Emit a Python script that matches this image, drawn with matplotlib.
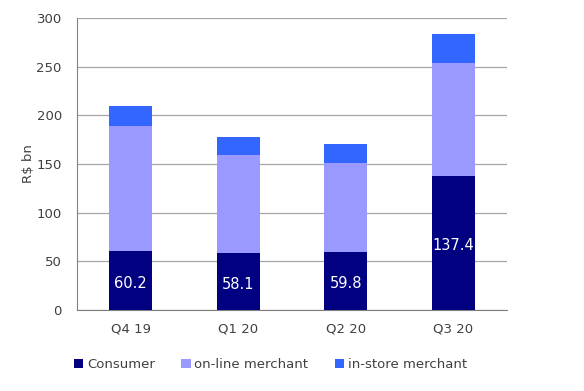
import numpy as np
import matplotlib.pyplot as plt

quarters = ['Q4 19', 'Q1 20', 'Q2 20', 'Q3 20']
consumer = [60.2, 58.1, 59.8, 137.4]
online = [129.0, 101.5, 91.5, 116.6]
instore = [20.0, 18.5, 19.0, 30.0]

colors = {'Consumer': '#000080', 'on-line merchant': '#9999ff', 'in-store merchant': '#3366ff'}

plt.rcParams['font.family'] = ['DejaVu Sans']
fig = plt.figure(figsize=(5.84, 3.91), dpi=100)
ax = fig.add_axes([0.132, 0.207, 0.736, 0.747])

x = np.arange(len(quarters)) + 0.5
w = 0.4
c = np.array(consumer)
o = np.array(online)
s = np.array(instore)

b1 = ax.bar(x, c, w, color=colors['Consumer'], label='Consumer', zorder=3)
ax.bar(x, o, w, bottom=c, color=colors['on-line merchant'], label='on-line merchant', zorder=3)
ax.bar(x, s, w, bottom=c + o, color=colors['in-store merchant'], label='in-store merchant', zorder=3)

ax.bar_label(b1, labels=['%.1f' % v for v in consumer], label_type='center',
             color='white', fontsize=10.5, padding=-2)

ax.set_xlim(0, 4)
ax.set_ylim(0, 300)
ax.set_yticks(range(0, 301, 50))
ax.set_xticks(x)
ax.set_xticklabels(quarters)
ax.tick_params(length=0, labelsize=9.5, colors='#404040', pad=9)
ax.tick_params(axis='y', pad=11)
ax.grid(axis='y', color='#a6a6a6', lw=0.9, zorder=0)
for sp in ['top', 'right']:
    ax.spines[sp].set_visible(False)
for sp in ['left', 'bottom']:
    ax.spines[sp].set_color('#808080')
ax.set_ylabel('R$ bn', fontsize=9.5, color='#404040', labelpad=1)

ax.legend(loc='upper center', bbox_to_anchor=(0.45, -0.125), ncol=3, frameon=False,
          fontsize=9.5, handlelength=0.7, handleheight=0.7, handletextpad=0.3,
          columnspacing=2.0, labelcolor='#404040')

fig.savefig('out.png', dpi=100)
